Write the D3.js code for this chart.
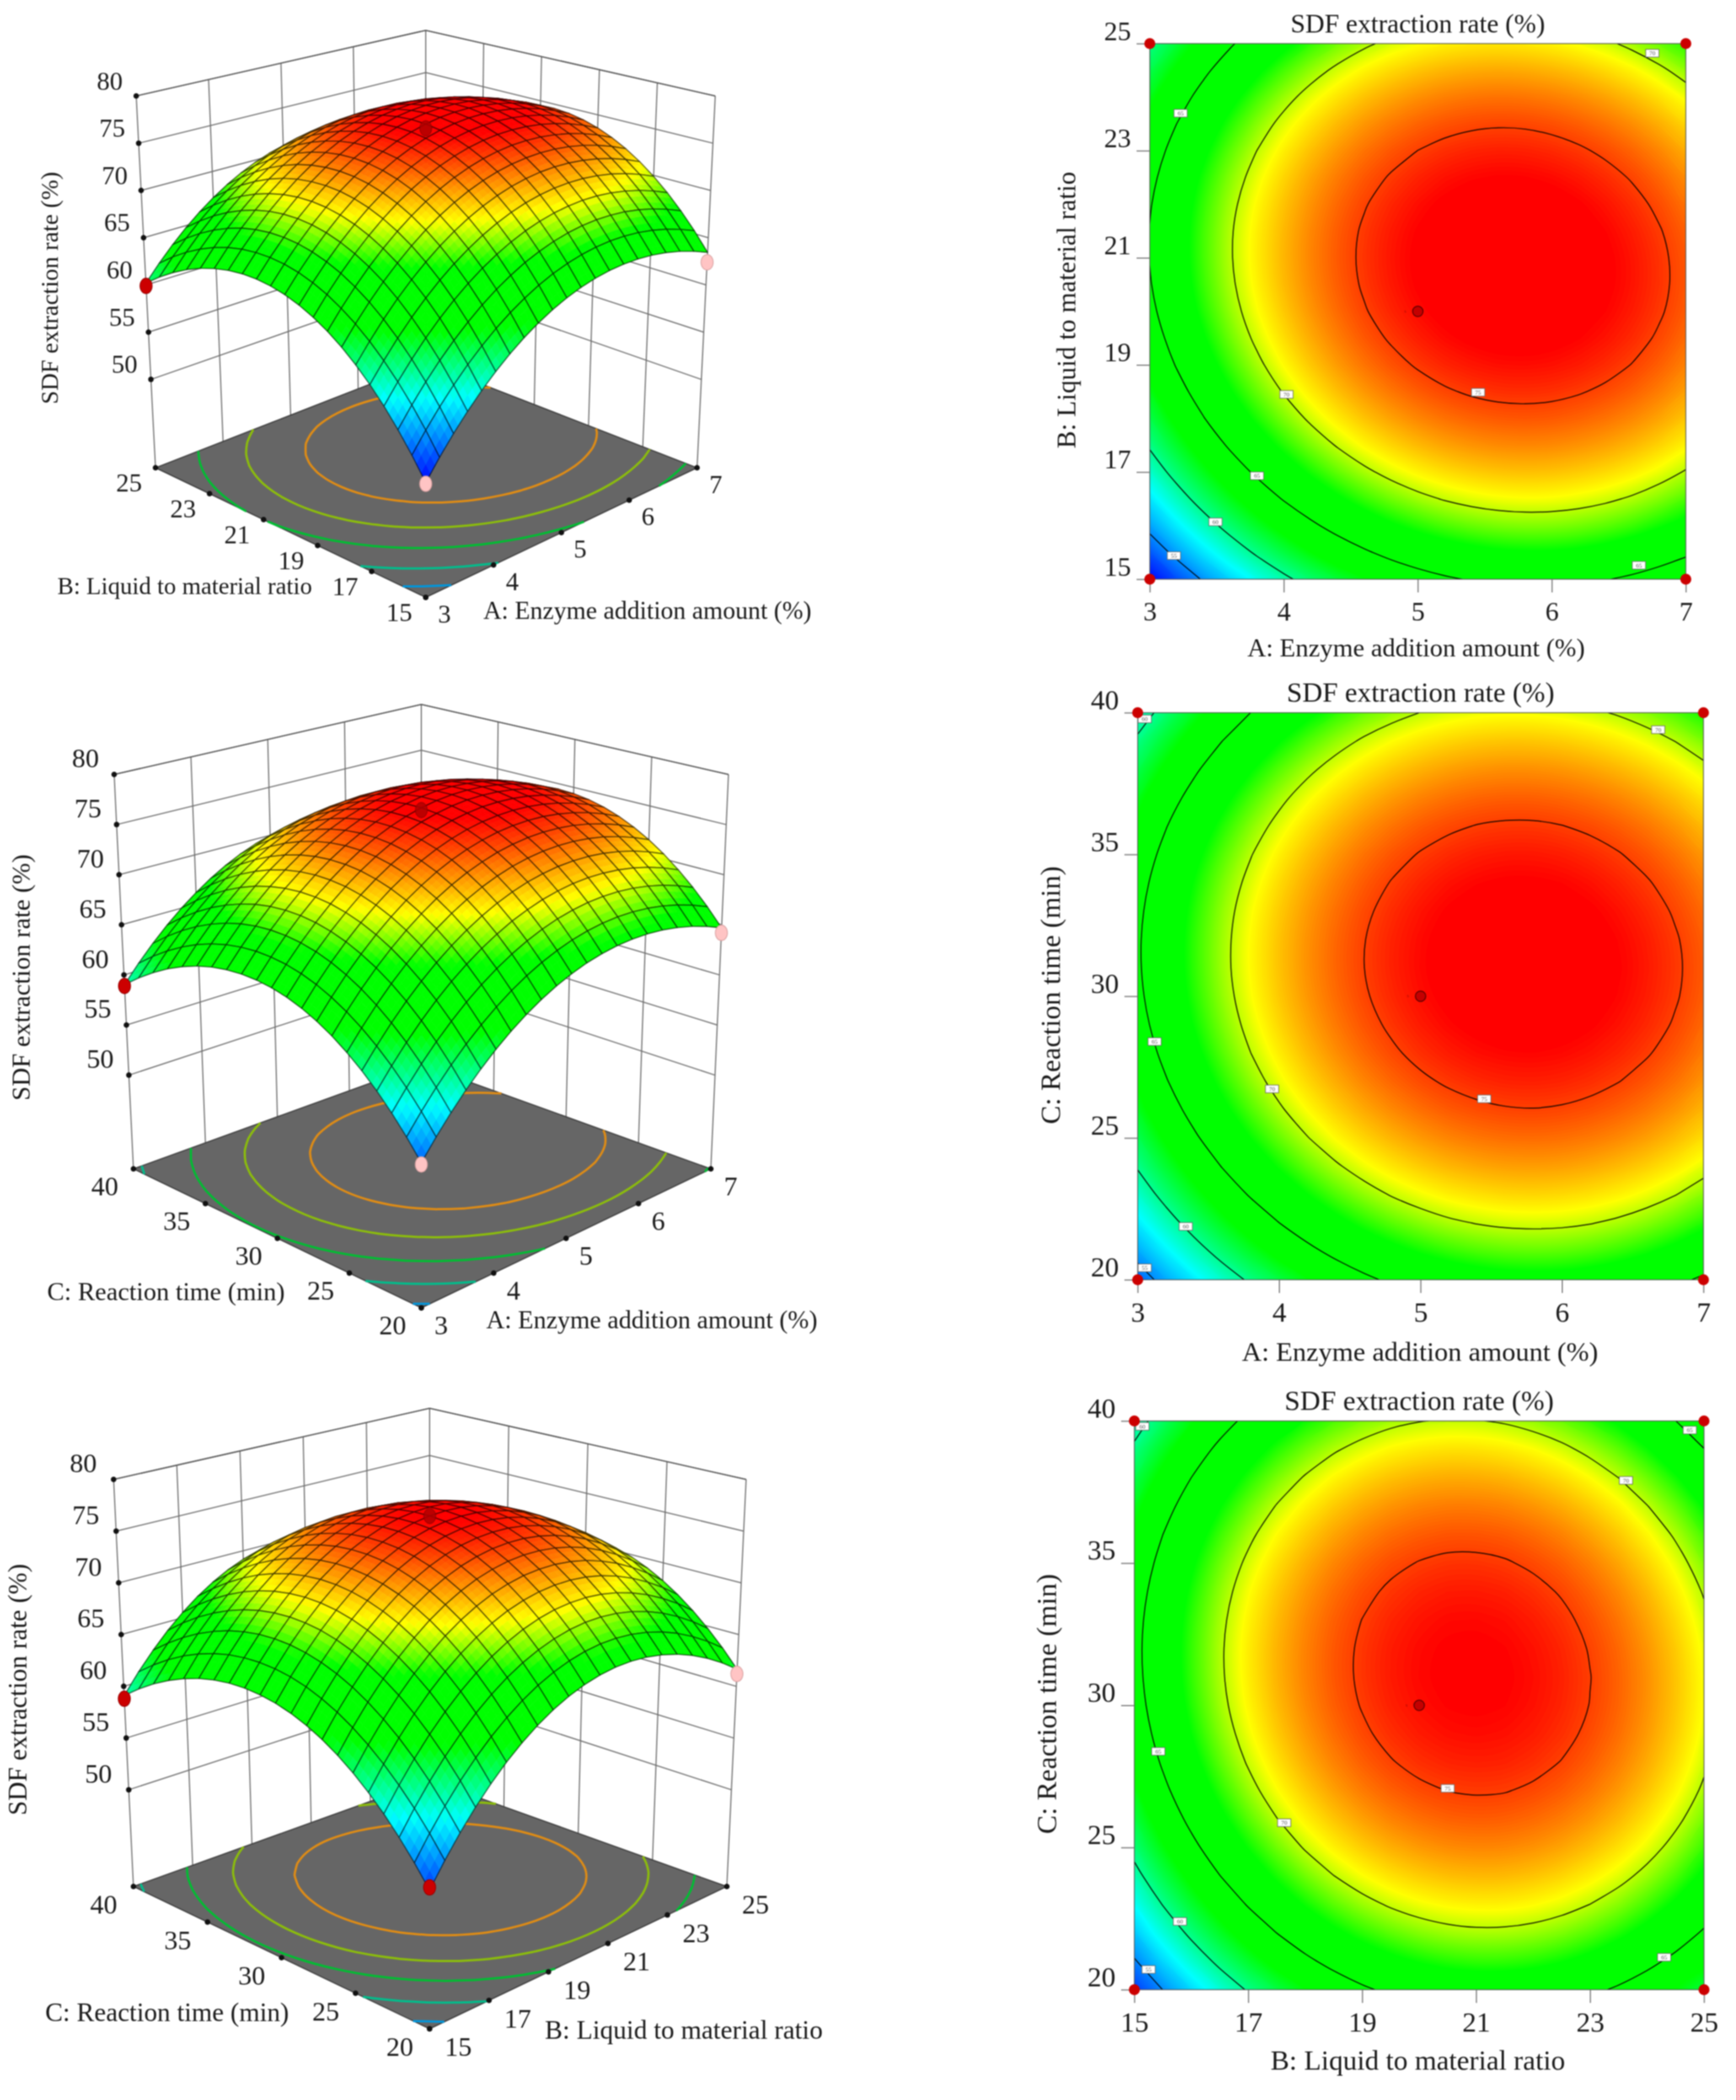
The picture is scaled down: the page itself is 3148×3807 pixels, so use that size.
<!DOCTYPE html>
<html>
<head>
<meta charset="utf-8">
<style>
  html, body { margin: 0; background: #fff; }
  svg { display: block; font-family: "Liberation Serif", serif; fill: #1a1a1a; filter: blur(0.9px); }
</style>
<script src="https://cdnjs.cloudflare.com/ajax/libs/d3/7.8.5/d3.min.js"></script>
</head>
<body>
<svg id="chart" width="3148" height="3807"></svg>
<script>
// tick labels
const ticksA = [3, 4, 5, 6, 7];
const ticksB = [15, 17, 19, 21, 23, 25];
const ticksC = [20, 25, 30, 35, 40];
const ticksZ = [50, 55, 60, 65, 70, 75, 80];

// contour levels on the flat plots
const contourLevels = [55, 60, 65, 70, 75];
// the lines on the grey floors of the 3D views sit a little lower at the top end
const floorLevelsAB = [55, 60, 65, 69.2, 73.2];
const floorLevelsAC = [55, 60, 65, 69.4, 73.4];
const floorLevelsBC = [55, 60, 65, 68.8, 72.7];
const floorLineColors = ['#0096dc', '#00be8c', '#00be32', '#8cbe0a', '#e08c14'];

// colour ramp of the response
const rampValues = [51.5, 57.8, 62.8, 67.5, 70.8, 76.3];
const rampColors = ['#0000ff', '#00ffff', '#00ff00', '#00ff00', '#ffff00', '#ff0000'];

// response, rows go up the second factor, columns along the first
const surfaceAB = [
[51.61,53.47,55.20,56.79,58.26,59.58,60.78,61.84,62.76,63.56,64.22,64.74,65.13,65.39,65.51,65.50,65.36,65.08,64.67,64.12,63.45],
[53.68,55.53,57.25,58.83,60.29,61.60,62.79,63.84,64.75,65.54,66.19,66.70,67.08,67.33,67.44,67.42,67.27,66.98,66.56,66.00,65.32],
[55.57,57.42,59.13,60.70,62.14,63.45,64.63,65.67,66.57,67.35,67.98,68.49,68.86,69.10,69.20,69.17,69.01,68.71,68.28,67.71,67.01],
[57.30,59.13,60.83,62.40,63.83,65.13,66.29,67.32,68.22,68.98,69.61,70.10,70.46,70.69,70.79,70.75,70.57,70.26,69.82,69.25,68.54],
[58.85,60.67,62.36,63.92,65.34,66.63,67.78,68.80,69.69,70.44,71.06,71.55,71.90,72.12,72.20,72.15,71.96,71.65,71.20,70.61,69.89],
[60.23,62.04,63.72,65.27,66.68,67.96,69.10,70.11,70.99,71.73,72.34,72.82,73.16,73.37,73.44,73.38,73.18,72.86,72.40,71.80,71.07],
[61.44,63.24,64.91,66.45,67.85,69.12,70.25,71.25,72.12,72.85,73.45,73.91,74.24,74.44,74.51,74.44,74.23,73.89,73.42,72.82,72.08],
[62.47,64.26,65.92,67.45,68.84,70.10,71.22,72.21,73.07,73.79,74.38,74.84,75.16,75.35,75.40,75.32,75.10,74.76,74.28,73.66,72.91],
[63.33,65.12,66.77,68.28,69.66,70.91,72.03,73.01,73.85,74.56,75.14,75.59,75.90,76.08,76.12,76.03,75.81,75.45,74.96,74.33,73.57],
[64.02,65.79,67.43,68.94,70.31,71.55,72.65,73.62,74.46,75.16,75.73,76.17,76.47,76.64,76.67,76.57,76.33,75.97,75.47,74.83,74.06],
[64.54,66.30,67.93,69.43,70.79,72.01,73.11,74.07,74.90,75.59,76.15,76.57,76.86,77.02,77.04,76.93,76.69,76.31,75.80,75.16,74.38],
[64.88,66.63,68.25,69.74,71.09,72.31,73.39,74.34,75.16,75.84,76.39,76.81,77.09,77.23,77.25,77.13,76.87,76.49,75.96,75.31,74.52],
[65.05,66.79,68.40,69.88,71.22,72.43,73.50,74.44,75.25,75.92,76.46,76.87,77.14,77.27,77.28,77.15,76.88,76.49,75.95,75.29,74.49],
[65.05,66.78,68.38,69.85,71.18,72.37,73.44,74.37,75.17,75.83,76.36,76.75,77.01,77.14,77.13,76.99,76.72,76.31,75.77,75.10,74.29],
[64.87,66.60,68.18,69.64,70.96,72.15,73.20,74.12,74.91,75.56,76.08,76.47,76.72,76.84,76.82,76.67,76.39,75.97,75.42,74.73,73.91],
[64.52,66.24,67.82,69.26,70.57,71.75,72.80,73.71,74.48,75.12,75.63,76.01,76.25,76.36,76.33,76.17,75.88,75.45,74.89,74.19,73.36],
[64.00,65.71,67.27,68.71,70.01,71.18,72.21,73.11,73.88,74.51,75.01,75.38,75.61,75.71,75.67,75.50,75.20,74.76,74.19,73.48,72.64],
[63.31,65.00,66.56,67.99,69.28,70.44,71.46,72.35,73.11,73.73,74.22,74.57,74.79,74.88,74.84,74.66,74.34,73.89,73.31,72.60,71.75],
[62.44,64.13,65.67,67.09,68.37,69.52,70.53,71.41,72.16,72.77,73.25,73.60,73.81,73.89,73.83,73.64,73.32,72.86,72.27,71.54,70.68],
[61.40,63.08,64.61,66.02,67.29,68.43,69.43,70.30,71.04,71.64,72.11,72.45,72.65,72.72,72.65,72.45,72.12,71.65,71.05,70.31,69.44],
[60.19,61.85,63.38,64.78,66.04,67.17,68.16,69.02,69.75,70.34,70.80,71.13,71.32,71.37,71.30,71.09,70.74,70.27,69.65,68.91,68.03]
];

const surfaceAC = [
[53.95,55.74,57.41,58.94,60.33,61.60,62.73,63.73,64.60,65.34,65.94,66.42,66.75,66.96,67.03,66.98,66.79,66.46,66.01,65.42,64.70],
[55.74,57.53,59.19,60.72,62.11,63.37,64.50,65.50,66.36,67.09,67.69,68.16,68.49,68.69,68.76,68.70,68.50,68.17,67.71,67.12,66.40],
[57.38,59.16,60.82,62.34,63.72,64.98,66.10,67.09,67.95,68.68,69.27,69.74,70.06,70.26,70.32,70.26,70.06,69.72,69.26,68.66,67.93],
[58.85,60.63,62.28,63.79,65.18,66.43,67.54,68.53,69.38,70.11,70.69,71.15,71.47,71.67,71.73,71.65,71.45,71.11,70.64,70.04,69.30],
[60.16,61.93,63.58,65.09,66.46,67.71,68.82,69.80,70.65,71.37,71.95,72.41,72.72,72.91,72.96,72.89,72.68,72.33,71.86,71.25,70.51],
[61.30,63.07,64.71,66.22,67.59,68.83,69.94,70.92,71.76,72.47,73.05,73.50,73.81,73.99,74.04,73.96,73.74,73.40,72.92,72.30,71.56],
[62.29,64.05,65.69,67.19,68.56,69.79,70.89,71.87,72.70,73.41,73.98,74.43,74.73,74.91,74.96,74.87,74.65,74.29,73.81,73.19,72.44],
[63.11,64.87,66.50,67.99,69.36,70.59,71.69,72.65,73.49,74.19,74.76,75.19,75.50,75.67,75.71,75.62,75.39,75.03,74.54,73.92,73.16],
[63.77,65.53,67.15,68.64,70.00,71.22,72.32,73.28,74.11,74.80,75.37,75.80,76.10,76.26,76.30,76.20,75.97,75.61,75.11,74.48,73.72],
[64.27,66.02,67.64,69.12,70.47,71.70,72.78,73.74,74.56,75.25,75.81,76.24,76.53,76.70,76.72,76.62,76.39,76.02,75.52,74.88,74.12],
[64.60,66.35,67.96,69.44,70.79,72.01,73.09,74.04,74.86,75.54,76.10,76.52,76.81,76.97,76.99,76.88,76.64,76.27,75.76,75.12,74.35],
[64.77,66.51,68.12,69.60,70.94,72.15,73.23,74.18,74.99,75.67,76.22,76.64,76.92,77.07,77.09,76.98,76.73,76.36,75.85,75.20,74.43],
[64.78,66.52,68.12,69.59,70.93,72.14,73.21,74.15,74.96,75.64,76.18,76.59,76.87,77.02,77.03,76.91,76.66,76.28,75.77,75.12,74.34],
[64.63,66.36,67.96,69.43,70.76,71.96,73.03,73.96,74.77,75.44,75.98,76.39,76.66,76.80,76.81,76.69,76.43,76.04,75.52,74.87,74.08],
[64.32,66.04,67.64,69.10,70.42,71.62,72.68,73.61,74.41,75.08,75.61,76.02,76.28,76.42,76.42,76.30,76.04,75.64,75.12,74.46,73.67],
[63.84,65.56,67.15,68.60,69.93,71.12,72.18,73.10,73.90,74.56,75.09,75.48,75.75,75.88,75.88,75.75,75.48,75.08,74.55,73.89,73.09],
[63.20,64.92,66.50,67.95,69.27,70.45,71.51,72.43,73.22,73.87,74.40,74.79,75.05,75.17,75.17,75.03,74.76,74.36,73.82,73.15,72.35],
[62.40,64.11,65.69,67.13,68.45,69.63,70.68,71.59,72.38,73.03,73.55,73.93,74.19,74.31,74.30,74.15,73.88,73.47,72.93,72.26,71.45],
[61.43,63.14,64.71,66.15,67.46,68.64,69.68,70.59,71.37,72.02,72.53,72.91,73.16,73.28,73.26,73.12,72.83,72.42,71.88,71.20,70.39],
[60.31,62.01,63.58,65.01,66.32,67.49,68.53,69.43,70.21,70.85,71.36,71.73,71.98,72.09,72.07,71.91,71.63,71.21,70.66,69.98,69.16],
[59.02,60.72,62.28,63.71,65.01,66.17,67.21,68.11,68.88,69.51,70.02,70.39,70.63,70.73,70.71,70.55,70.26,69.84,69.28,68.59,67.77]
];

const surfaceBC = [
[52.95,55.02,56.92,58.64,60.19,61.58,62.78,63.82,64.69,65.38,65.90,66.25,66.43,66.43,66.26,65.92,65.41,64.73,63.88,62.85,61.65],
[54.81,56.87,58.75,60.47,62.01,63.38,64.58,65.60,66.46,67.14,67.65,67.99,68.16,68.15,67.97,67.62,67.10,66.41,65.54,64.51,63.30],
[56.50,58.55,60.43,62.13,63.66,65.02,66.21,67.23,68.07,68.74,69.24,69.57,69.73,69.71,69.52,69.16,68.63,67.93,67.05,66.00,64.78],
[58.04,60.07,61.94,63.63,65.15,66.50,67.68,68.69,69.52,70.18,70.67,70.99,71.13,71.11,70.91,70.54,69.99,69.28,68.39,67.34,66.10],
[59.40,61.43,63.29,64.97,66.48,67.82,68.99,69.98,70.80,71.46,71.93,72.24,72.37,72.34,72.13,71.75,71.19,70.47,69.57,68.51,67.26],
[60.61,62.63,64.47,66.14,67.64,68.97,70.13,71.11,71.92,72.57,73.03,73.33,73.45,73.41,73.19,72.80,72.23,71.50,70.59,69.51,68.26],
[61.65,63.66,65.49,67.15,68.64,69.96,71.11,72.08,72.88,73.52,73.97,74.26,74.37,74.31,74.08,73.68,73.11,72.36,71.44,70.35,69.09],
[62.53,64.53,66.35,68.00,69.48,70.79,71.92,72.89,73.68,74.30,74.74,75.02,75.12,75.06,74.81,74.40,73.82,73.06,72.13,71.03,69.76],
[63.25,65.23,67.04,68.69,70.15,71.45,72.58,73.53,74.31,74.92,75.36,75.62,75.71,75.64,75.38,74.96,74.36,73.60,72.66,71.55,70.26],
[63.80,65.78,67.57,69.21,70.66,71.95,73.06,74.01,74.78,75.38,75.80,76.06,76.14,76.05,75.79,75.36,74.75,73.98,73.02,71.90,70.61],
[64.19,66.16,67.94,69.57,71.01,72.29,73.39,74.33,75.08,75.68,76.09,76.33,76.40,76.31,76.03,75.59,74.97,74.19,73.22,72.09,70.79],
[64.41,66.37,68.15,69.76,71.19,72.47,73.55,74.48,75.22,75.81,76.21,76.44,76.50,76.40,76.11,75.66,75.03,74.23,73.26,72.12,70.80],
[64.48,66.42,68.19,69.79,71.22,72.48,73.55,74.47,75.20,75.78,76.17,76.39,76.44,76.32,76.02,75.57,74.92,74.12,73.13,71.99,70.65],
[64.38,66.31,68.07,69.66,71.07,72.32,73.39,74.30,75.02,75.58,75.96,76.18,76.21,76.09,75.78,75.31,74.65,73.84,72.84,71.69,70.34],
[64.11,66.04,67.78,69.37,70.77,72.01,73.06,73.96,74.67,75.22,75.59,75.80,75.82,75.69,75.37,74.89,74.22,73.40,72.39,71.22,69.87],
[63.68,65.60,67.34,68.91,70.30,71.53,72.57,73.46,74.16,74.70,75.06,75.26,75.27,75.12,74.79,74.30,73.63,72.79,71.77,70.60,69.23],
[63.09,65.00,66.72,68.29,69.67,70.89,71.92,72.80,73.49,74.02,74.36,74.55,74.55,74.40,74.06,73.56,72.87,72.03,71.00,69.81,68.43],
[62.34,64.24,65.95,67.50,68.87,70.08,71.10,71.97,72.65,73.17,73.51,73.68,73.67,73.51,73.16,72.65,71.95,71.10,70.05,68.86,67.47],
[61.43,63.31,65.01,66.56,67.91,69.11,70.13,70.98,71.65,72.16,72.49,72.65,72.63,72.46,72.09,71.57,70.86,70.00,68.95,67.74,66.34],
[60.35,62.22,63.91,65.45,66.79,67.98,68.98,69.83,70.48,70.99,71.30,71.46,71.43,71.24,70.87,70.34,69.62,68.74,67.68,66.46,65.05],
[59.10,60.97,62.65,64.17,65.51,66.69,67.68,68.51,69.16,69.65,69.95,70.10,70.06,69.86,69.48,68.94,68.21,67.32,66.25,65.02,63.60]
];

// design points in the 3D views: first factor, second factor, response, colour
const designAB = [[3, 25, 59.9, '#cc0000'], [7, 15, 62.4, '#ffc4c4'], [3, 15, 51.5, '#ffc4c4']];
const designAC = [[3, 40, 58.9, '#cc0000'], [7, 20, 64.2, '#ffc4c4'], [3, 20, 53.8, '#ffc4c4']];
const designBC = [[15, 40, 58.8, '#cc0000'], [25, 20, 61.2, '#ffc4c4'], [15, 20, 53.2, '#cc0000']];
const centerHeight = [77.2, 77.3, 77.3];

// contour labels: first factor, second factor, level
const labelsAB = [[6.75, 24.82, 70], [3.23, 23.70, 65], [4.02, 18.45, 70], [5.45, 18.49, 75], [3.80, 16.93, 65], [3.49, 16.07, 60], [3.18, 15.44, 55], [6.65, 15.26, 65]];
const labelsAC = [[6.68, 39.40, 70], [3.05, 39.78, 60], [3.12, 28.40, 65], [3.95, 26.73, 70], [5.45, 26.38, 75], [3.34, 21.88, 60], [3.05, 20.42, 55]];
const labelsBC = [[15.14, 39.81, 60], [24.75, 39.68, 65], [23.63, 37.91, 70], [15.42, 28.38, 65], [20.50, 27.08, 75], [17.63, 25.87, 70], [15.80, 22.40, 60], [15.25, 20.71, 55], [24.30, 21.14, 65]];

const nameA = 'A: Enzyme addition amount (%)';
const nameB = 'B: Liquid to material ratio';
const nameC = 'C: Reaction time (min)';
const nameZ = 'SDF extraction rate (%)';

const floorZ = 40.65, topZ = 80;
const svg = d3.select('#chart');
const color = d3.scaleLinear().domain(rampValues).range(rampColors).clamp(true);

function mix(a, b, t) { return [a[0] + (b[0] - a[0]) * t, a[1] + (b[1] - a[1]) * t]; }

function isoLines(table, level) {
  // keep the part of the d3 contour that lies inside the sampled grid
  const inside = p => p[0] >= 0.5 && p[0] <= 20.5 && p[1] >= 0.5 && p[1] <= 20.5;
  const shape = d3.contours().size([21, 21]).thresholds([level])(table.flat())[0];
  const out = [];
  shape.coordinates.forEach(poly => poly.forEach(ring => {
    const pts = ring.slice(0, -1);
    const k = pts.findIndex(p => !inside(p));
    if (k < 0) { out.push(ring); return; }
    const turned = pts.slice(k).concat(pts.slice(0, k + 1));
    let cur = [];
    turned.forEach(p => {
      if (inside(p)) cur.push(p);
      else { if (cur.length > 1) out.push(cur); cur = []; }
    });
  }));
  return out;
}

function draw3D(cfg) {
  const g = svg.append('g');
  const p = d3.scaleLinear(cfg.xDomain, [0, 1]);
  const q = d3.scaleLinear(cfg.yDomain, [0, 1]);
  const t = d3.scaleLinear([floorZ, topZ], [0, 1]);
  const xAt = d3.scaleLinear([0, 20], cfg.xDomain);
  const yAt = d3.scaleLinear([0, 20], cfg.yDomain);

  const plane = (c, a, b) => mix(mix(c[0], c[1], a), mix(c[2], c[3], a), b);
  const project = (x, y, z) => mix(
    plane([cfg.F, cfg.R, cfg.L, cfg.B], p(x), q(y)),
    plane([cfg.topF, cfg.topR, cfg.topL, cfg.topB], p(x), q(y)),
    t(z));
  const seg = d3.line();
  const curve = d3.line().curve(d3.curveCatmullRom.alpha(0.5));

  const [x0, x1] = cfg.xDomain, [y0, y1] = cfg.yDomain;

  // walls
  const walls = g.append('g').attr('fill', 'none').attr('stroke', '#6e6e6e').attr('stroke-width', 2);
  ticksZ.forEach(z => {
    walls.append('path').attr('d', seg([project(x0, y1, z), project(x1, y1, z), project(x1, y0, z)]));
  });
  cfg.xTicks.slice(1, -1).forEach(v => walls.append('path').attr('d', seg([project(v, y1, floorZ), project(v, y1, topZ)])));
  cfg.yTicks.slice(1, -1).forEach(v => walls.append('path').attr('d', seg([project(x1, v, floorZ), project(x1, v, topZ)])));
  [[x0, y1], [x1, y1], [x1, y0]].forEach(c => walls.append('path').attr('d', seg([project(c[0], c[1], floorZ), project(c[0], c[1], topZ)])));
  walls.append('path').attr('stroke', '#555').attr('d', seg([project(x0, y1, topZ), project(x1, y1, topZ), project(x1, y0, topZ)]));

  // floor and projected contours
  g.append('path').attr('fill', '#666').attr('stroke', '#3a3a3a').attr('stroke-width', 2)
    .attr('d', seg([project(x0, y0, floorZ), project(x1, y0, floorZ), project(x1, y1, floorZ), project(x0, y1, floorZ)]) + 'Z');
  const gridX = d3.scaleLinear([0.5, 20.5], cfg.xDomain);
  const gridY = d3.scaleLinear([0.5, 20.5], cfg.yDomain);
  cfg.floorLevels.forEach((lv, k) => {
    isoLines(cfg.table, lv).forEach(l => {
      g.append('path').attr('fill', 'none').attr('stroke', floorLineColors[k]).attr('stroke-width', 4)
        .attr('d', curve(l.map(c => project(gridX(c[0]), gridY(c[1]), floorZ))));
    });
  });

  // tick dots on the left vertical and the two floor edges
  const dots = [];
  ticksZ.forEach(z => dots.push(project(x0, y1, z)));
  cfg.xTicks.forEach(v => dots.push(project(v, y0, floorZ)));
  cfg.yTicks.forEach(v => dots.push(project(x0, v, floorZ)));
  g.append('g').selectAll('circle').data(dots).join('circle')
    .attr('cx', d => d[0]).attr('cy', d => d[1]).attr('r', 5).attr('fill', '#111');

  // tick labels
  const labels = g.append('g').attr('font-size', cfg.tickSize).attr('text-anchor', 'middle');
  const put = (txt, pos, off) => labels.append('text').attr('x', pos[0] + off[0]).attr('y', pos[1] + off[1]).attr('dy', '0.33em').text(txt);
  ticksZ.forEach(z => put(z, project(x0, y1, z), cfg.zOff));
  cfg.xTicks.forEach(v => put(v, project(v, y0, floorZ), cfg.xOff));
  cfg.yTicks.forEach(v => put(v, project(x0, v, floorZ), cfg.yOff));

  // surface, painted from the back corner to the front corner
  const cells = [];
  const sub = 3;
  for (let i = 19; i >= 0; i--) {
    for (let j = 19; j >= 0; j--) {
      const v00 = cfg.table[j][i], v10 = cfg.table[j][i + 1], v01 = cfg.table[j + 1][i], v11 = cfg.table[j + 1][i + 1];
      const at = (a, b) => {
        const z = (v00 * (1 - a) + v10 * a) * (1 - b) + (v01 * (1 - a) + v11 * a) * b;
        return { pos: project(xAt(i + a), yAt(j + b), z), z: z };
      };
      for (let a = sub - 1; a >= 0; a--) {
        for (let b = sub - 1; b >= 0; b--) {
          const c = [at(a / sub, b / sub), at((a + 1) / sub, b / sub), at((a + 1) / sub, (b + 1) / sub), at(a / sub, (b + 1) / sub)];
          cells.push({ d: seg(c.map(e => e.pos)) + 'Z', fill: color(d3.mean(c, e => e.z)), line: false });
        }
      }
      const edge = [at(0, 0), at(1, 0), at(1, 1), at(0, 1)];
      cells.push({ d: seg(edge.map(e => e.pos)) + 'Z', fill: 'none', line: true });
    }
  }
  g.append('g').selectAll('path').data(cells).join('path')
    .attr('d', d => d.d)
    .attr('fill', d => d.fill)
    .attr('stroke', d => d.line ? '#000' : d.fill)
    .attr('stroke-opacity', d => d.line ? 0.62 : 1)
    .attr('stroke-width', d => d.line ? 1.9 : 0.8)
    .attr('stroke-linejoin', 'round');

  // design points
  const balls = g.append('g');
  cfg.design.forEach(d => {
    const c = project(d[0], d[1], d[2]);
    balls.append('ellipse').attr('cx', c[0]).attr('cy', c[1]).attr('rx', 11).attr('ry', 14)
      .attr('fill', d[3]).attr('stroke', d[3] === '#cc0000' ? '#990000' : '#d9a0a0').attr('stroke-width', 1.5);
  });
  const mid = project(cfg.center[0], cfg.center[1], cfg.centerZ);
  balls.append('ellipse').attr('cx', mid[0]).attr('cy', mid[1]).attr('rx', 11).attr('ry', 14)
    .attr('fill', '#b00000').attr('stroke', '#800000').attr('fill-opacity', 0.85);

  // axis titles
  const titles = g.append('g').attr('text-anchor', 'middle');
  titles.append('text').attr('x', cfg.xTitle[0]).attr('y', cfg.xTitle[1]).attr('dy', '0.33em').attr('font-size', cfg.xTitle[2]).text(cfg.xName);
  titles.append('text').attr('x', cfg.yTitle[0]).attr('y', cfg.yTitle[1]).attr('dy', '0.33em').attr('font-size', cfg.yTitle[2]).text(cfg.yName);
  titles.append('text').attr('transform', `translate(${cfg.zTitle[0]},${cfg.zTitle[1]}) rotate(-90)`).attr('dy', '0.33em').attr('font-size', cfg.zTitle[2]).text(nameZ);
}

function drawContour(cfg, idx) {
  const g = svg.append('g');
  const { left, right, top, bottom } = cfg;
  const x = d3.scaleLinear(cfg.xDomain, [left, right]);
  const y = d3.scaleLinear(cfg.yDomain, [bottom, top]);
  const gx = d3.scaleLinear([0.5, 20.5], [left, right]);
  const gy = d3.scaleLinear([0.5, 20.5], [bottom, top]);
  const clipId = 'plot-clip-' + idx;
  svg.append('clipPath').attr('id', clipId).append('rect')
    .attr('x', left).attr('y', top).attr('width', right - left).attr('height', bottom - top);

  const area = g.append('g').attr('clip-path', `url(#${clipId})`);
  area.append('rect').attr('x', left).attr('y', top).attr('width', right - left).attr('height', bottom - top).attr('fill', color(51));

  // stacked iso-bands of the table, drawn with rounded rings so the colour edges stay soft
  const ringPath = d3.line().x(d => gx(d[0])).y(d => gy(d[1])).curve(d3.curveCatmullRomClosed.alpha(0.5));
  const bands = d3.contours().size([21, 21]).thresholds(d3.range(51, 78, 0.1))(cfg.table.flat());
  area.selectAll('path.band').data(bands).join('path').attr('class', 'band')
    .attr('d', d => d.coordinates.map(poly => poly.map(ring => ringPath(ring.slice(0, -1))).join('')).join(''))
    .attr('fill', d => color(d.value));

  const line = d3.line().x(d => gx(d[0])).y(d => gy(d[1])).curve(d3.curveCatmullRom.alpha(0.5));
  contourLevels.forEach(lv => {
    isoLines(cfg.table, lv).forEach(l => {
      area.append('path').attr('fill', 'none').attr('stroke', '#000').attr('stroke-width', 1.7).attr('d', line(l));
    });
  });

  g.append('rect').attr('x', left).attr('y', top).attr('width', right - left).attr('height', bottom - top)
    .attr('fill', 'none').attr('stroke', '#555').attr('stroke-width', 1.5);

  // axes
  const ax = g.append('g').attr('transform', `translate(0,${bottom})`)
    .call(d3.axisBottom(x).tickValues(cfg.xTicks).tickFormat(d3.format('d')).tickSize(24).tickSizeOuter(0).tickPadding(16));
  const ay = g.append('g').attr('transform', `translate(${left},0)`)
    .call(d3.axisLeft(y).tickValues(cfg.yTicks).tickFormat(d3.format('d')).tickSize(24).tickSizeOuter(0).tickPadding(10));
  [ax, ay].forEach(a => {
    a.select('.domain').remove();
    a.selectAll('line').attr('stroke', '#777').attr('stroke-width', 2);
    a.selectAll('text').attr('font-size', cfg.tickSize).attr('font-family', 'Liberation Serif').attr('fill', '#1a1a1a');
  });
  ay.selectAll('text').attr('dy', '-7');

  // contour labels
  const tags = g.append('g');
  cfg.labels.forEach(d => {
    const cx = x(d[0]), cy = y(d[1]);
    tags.append('rect').attr('x', cx - 12).attr('y', cy - 7).attr('width', 24).attr('height', 14)
      .attr('fill', '#fff').attr('stroke', '#666').attr('stroke-width', 1.2);
    tags.append('text').attr('x', cx).attr('y', cy).attr('dy', '0.35em').attr('text-anchor', 'middle')
      .attr('font-size', 11).attr('fill', '#555').text(d[2]);
  });

  // design points
  const marks = g.append('g');
  [cfg.xDomain[0], cfg.xDomain[1]].forEach(a => [cfg.yDomain[0], cfg.yDomain[1]].forEach(b => {
    marks.append('circle').attr('cx', x(a)).attr('cy', y(b)).attr('r', 10).attr('fill', '#cc0000');
  }));
  marks.append('circle').attr('cx', x(cfg.center[0])).attr('cy', y(cfg.center[1])).attr('r', 9.5)
    .attr('fill', '#c40000').attr('stroke', '#400').attr('stroke-width', 1.5);
  marks.append('text').attr('x', x(cfg.center[0]) - 23).attr('y', y(cfg.center[1])).attr('dy', '0.35em')
    .attr('text-anchor', 'middle').attr('font-size', 7).attr('fill', '#700').text('5');

  // titles
  const titles = g.append('g').attr('text-anchor', 'middle');
  titles.append('text').attr('x', (left + right) / 2).attr('y', top - 20).attr('font-size', cfg.titleSize).text(nameZ);
  titles.append('text').attr('x', cfg.xTitle[0]).attr('y', cfg.xTitle[1]).attr('dy', '0.33em').attr('font-size', cfg.xTitle[2]).text(cfg.xName);
  titles.append('text').attr('transform', `translate(${cfg.yTitle[0]},${cfg.yTitle[1]}) rotate(-90)`).attr('dy', '0.33em').attr('font-size', cfg.yTitle[2]).text(cfg.yName);
}

draw3D({
  table: surfaceAB, floorLevels: floorLevelsAB, design: designAB, center: [5, 20], centerZ: centerHeight[0],
  xDomain: [3, 7], yDomain: [15, 25], xTicks: ticksA, yTicks: ticksB, xName: nameA, yName: nameB,
  F: [772, 1083], R: [1264, 848], L: [282, 848], B: [772, 657],
  topF: [772, 336], topR: [1297, 174], topL: [247, 174], topB: [772, 55],
  tickSize: 47, zOff: [-48, -27], xOff: [34, 30], yOff: [-48, 27],
  xTitle: [1174, 1107, 45.6], yTitle: [335, 1062, 44], zTitle: [90, 522, 44]
});
draw3D({
  table: surfaceAC, floorLevels: floorLevelsAC, design: designAC, center: [5, 30], centerZ: centerHeight[1],
  xDomain: [3, 7], yDomain: [20, 40], xTicks: ticksA, yTicks: ticksC, xName: nameA, yName: nameC,
  F: [764, 2371], R: [1289, 2119], L: [242, 2119], B: [764, 1930],
  topF: [764, 1593], topR: [1321, 1404], topL: [207, 1404], topB: [764, 1277],
  tickSize: 49, zOff: [-52, -29], xOff: [36, 32], yOff: [-52, 32],
  xTitle: [1182, 2393, 46], yTitle: [301, 2342, 46.6], zTitle: [39, 1772, 46.6]
});
draw3D({
  table: surfaceBC, floorLevels: floorLevelsBC, design: designBC, center: [20, 30], centerZ: centerHeight[2],
  xDomain: [15, 25], yDomain: [20, 40], xTicks: ticksB, yTicks: ticksC, xName: nameB, yName: nameC,
  F: [779, 3678], R: [1318, 3420], L: [242, 3420], B: [779, 3227],
  topF: [779, 2874], topR: [1353, 2682], topL: [206, 2682], topB: [779, 2553],
  tickSize: 49, zOff: [-55, -29], xOff: [52, 33], yOff: [-54, 33],
  xTitle: [1240, 3680, 48], yTitle: [303, 3648, 47.8], zTitle: [32, 3063, 47.6]
});

drawContour({
  table: surfaceAB, labels: labelsAB, center: [5, 20],
  xDomain: [3, 7], yDomain: [15, 25], xTicks: ticksA, yTicks: ticksB, xName: nameA, yName: nameB,
  left: 2085, right: 3057, top: 79, bottom: 1050, tickSize: 49, titleSize: 48.2,
  xTitle: [2568, 1175, 46.9], yTitle: [1934, 562, 47.8]
}, 0);
drawContour({
  table: surfaceAC, labels: labelsAC, center: [5, 30],
  xDomain: [3, 7], yDomain: [20, 40], xTicks: ticksA, yTicks: ticksC, xName: nameA, yName: nameC,
  left: 2063, right: 3089, top: 1292, bottom: 2320, tickSize: 51, titleSize: 50.7,
  xTitle: [2575, 2451, 49.5], yTitle: [1905, 1804, 50.6]
}, 1);
drawContour({
  table: surfaceBC, labels: labelsBC, center: [20, 30],
  xDomain: [15, 25], yDomain: [20, 40], xTicks: ticksB, yTicks: ticksC, xName: nameB, yName: nameC,
  left: 2057, right: 3090, top: 2576, bottom: 3607, tickSize: 51, titleSize: 51,
  xTitle: [2571, 3735, 50.9], yTitle: [1898, 3089, 51]
}, 2);
</script>
</body>
</html>
